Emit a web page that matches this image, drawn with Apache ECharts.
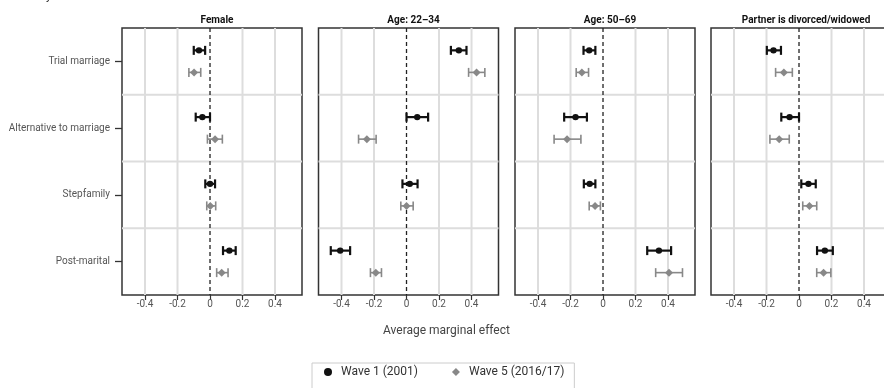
<!DOCTYPE html>
<html><head><meta charset="utf-8">
<script src="https://cdn.jsdelivr.net/npm/echarts@6/dist/echarts.min.js"></script>
<style>html,body{margin:0;padding:0;background:#fff}#c{width:884px;height:388px}</style>
</head><body><div id="c"></div>
<script>
// ---- data ----
const categories = ['Trial marriage', 'Alternative to marriage', 'Stepfamily', 'Post-marital'];
const panels = ['Female', 'Age: 22\u201334', 'Age: 50\u201369', 'Partner is divorced/widowed'];
const waves = ['Wave 1 (2001)', 'Wave 5 (2016/17)'];
const xTicks = [-0.4, -0.2, 0, 0.2, 0.4];
const catIdx = [0, 1, 2, 3];
const catBounds = [0.5, 1.5, 2.5];
// each entry: [estimate, lower, upper] per category
const femaleW1 = [[-0.068, -0.10, -0.03], [-0.047, -0.088, 0.0], [0.0, -0.029, 0.031], [0.119, 0.08, 0.158]];
const femaleW5 = [[-0.098, -0.13, -0.057], [0.031, -0.016, 0.076], [0.002, -0.02, 0.035], [0.072, 0.041, 0.111]];
const young1 = [[0.322, 0.273, 0.369], [0.066, 0.0, 0.133], [0.02, -0.025, 0.068], [-0.408, -0.466, -0.347]];
const young5 = [[0.431, 0.382, 0.482], [-0.244, -0.295, -0.187], [0.0, -0.035, 0.041], [-0.189, -0.222, -0.154]];
const older1 = [[-0.085, -0.12, -0.047], [-0.169, -0.239, -0.099], [-0.082, -0.118, -0.047], [0.344, 0.272, 0.419]];
const older5 = [[-0.13, -0.165, -0.089], [-0.221, -0.301, -0.136], [-0.049, -0.085, -0.016], [0.406, 0.324, 0.489]];
const partner1 = [[-0.157, -0.198, -0.111], [-0.058, -0.109, 0.0], [0.058, 0.014, 0.103], [0.159, 0.111, 0.208]];
const partner5 = [[-0.093, -0.144, -0.041], [-0.122, -0.179, -0.06], [0.064, 0.023, 0.109], [0.151, 0.109, 0.196]];
const panelData = [[femaleW1, femaleW5], [young1, young5], [older1, older5], [partner1, partner5]];

// ---- layout/styles ----
const FONT = 'Roboto, "Liberation Sans", sans-serif';
const lefts = [122, 318.5, 515, 711];
const PW = 180, TOP = 28, PH = 267;
const XMIN = -0.5415, XMAX = 0.566;
const YMIN = -0.5, YMAX = 3.5;
const colors = ['#111111', '#888888'];

function renderPoint(wi) {
  return function (params, api) {
    const ci = api.value(3);
    const band = api.size([0, 1])[1];
    const off = (wi === 0 ? -1 : 1) * band * 0.165;
    const p = api.coord([api.value(0), ci]);
    const l = api.coord([api.value(1), ci]);
    const h = api.coord([api.value(2), ci]);
    const y = p[1] + off;
    const col = colors[wi];
    const lw = wi === 0 ? 2.2 : 1.6;
    const ch = 4.5;
    const st = { stroke: col, lineWidth: lw, fill: null };
    const kids = [
      { type: 'line', shape: { x1: l[0], y1: y, x2: h[0], y2: y }, style: st },
      { type: 'line', shape: { x1: l[0], y1: y - ch, x2: l[0], y2: y + ch }, style: st },
      { type: 'line', shape: { x1: h[0], y1: y - ch, x2: h[0], y2: y + ch }, style: st }
    ];
    if (wi === 0) {
      kids.push({ type: 'circle', shape: { cx: p[0], cy: y, r: 3.2 }, style: { fill: col } });
    } else {
      const d = 4;
      kids.push({ type: 'polygon', shape: { points: [[p[0], y - d], [p[0] + d, y], [p[0], y + d], [p[0] - d, y]] }, style: { fill: col } });
    }
    return { type: 'group', children: kids };
  };
}
// gridlines: data rows [kind, value]; kind 0 = vertical at x, 1 = horizontal at y
function renderGrid(params, api) {
  const kind = api.value(0), v = api.value(1);
  if (kind === 0) {
    const a = api.coord([v, YMIN]), b = api.coord([v, YMAX]);
    const zero = Math.abs(v) < 1e-9;
    return { type: 'line', shape: { x1: a[0], y1: a[1], x2: b[0], y2: b[1] },
      style: zero ? { stroke: '#222', lineWidth: 1.3, lineDash: [4, 3] } : { stroke: '#dddddd', lineWidth: 2 },
      z2: zero ? 2 : 1 };
  }
  const a = api.coord([XMIN, v]), b = api.coord([XMAX, v]);
  return { type: 'line', shape: { x1: a[0], y1: a[1], x2: b[0], y2: b[1] }, style: { stroke: '#dddddd', lineWidth: 2 } };
}
const gridRows = xTicks.map(v => [0, v]).concat(catBounds.map(v => [1, v]));

const grids = [], xAxes = [], yAxes = [], series = [], titles = [];
panels.forEach((name, i) => {
  grids.push({ left: lefts[i], top: TOP, width: PW, height: PH, show: true, borderColor: '#333', borderWidth: 1.5,
    backgroundColor: 'transparent', containLabel: false, outerBoundsMode: 'none' });
  titles.push({ text: name, left: lefts[i] + PW / 2, top: 10, textAlign: 'center',
    textStyle: { fontFamily: FONT, fontSize: 10, fontWeight: 'bold', color: '#111' } });
  xAxes.push({ type: 'value', gridIndex: i, min: XMIN, max: XMAX, position: 'bottom',
    axisLine: { show: false, onZero: false }, splitLine: { show: false },
    axisTick: { show: true, customValues: xTicks, length: 5, lineStyle: { color: '#333', width: 1.2 } },
    axisLabel: { show: true, customValues: xTicks, margin: 4, color: '#555', fontFamily: FONT, fontSize: 10,
      formatter: v => (Math.abs(v) < 1e-9 ? '0' : String(Math.round(v * 10) / 10)) } });
  yAxes.push({ type: 'value', gridIndex: i, min: YMIN, max: YMAX, inverse: true, position: 'left',
    axisLine: { show: false, onZero: false }, splitLine: { show: false },
    axisTick: { show: i === 0, customValues: catIdx, length: 7, lineStyle: { color: '#333', width: 1.3 } },
    axisLabel: { show: i === 0, customValues: catIdx, margin: 12, color: '#555', fontFamily: FONT, fontSize: 10,
      formatter: v => categories[Math.round(v)] || '' } });
  series.push({ type: 'custom', name: 'grid' + i, xAxisIndex: i, yAxisIndex: i, renderItem: renderGrid,
    encode: { x: 1, y: 1 }, data: gridRows, z: 1, silent: true, clip: false });
  panelData[i].forEach((arr, wi) => {
    series.push({
      type: 'custom', name: waves[wi], xAxisIndex: i, yAxisIndex: i,
      renderItem: renderPoint(wi), encode: { x: 0, y: 3 },
      itemStyle: { color: colors[wi] },
      data: arr.map((r, ci) => [r[0], r[1], r[2], catIdx[ci]]), z: 3, silent: true
    });
  });
});

const chart = echarts.init(document.getElementById('c'), null, { renderer: 'canvas' });
chart.setOption({
  animation: false,
  backgroundColor: '#fff',
  textStyle: { fontFamily: FONT },
  title: titles,
  grid: grids, xAxis: xAxes, yAxis: yAxes, series: series,
  legend: {
    data: [{ name: waves[0], icon: 'circle' }, { name: waves[1], icon: 'diamond' }],
    left: 312, top: 363, padding: [3, 10, 14, 12], itemGap: 34, itemWidth: 8, itemHeight: 8,
    borderColor: '#cccccc', borderWidth: 1, backgroundColor: '#fff',
    textStyle: { fontFamily: FONT, fontSize: 12, color: '#333', padding: [0, 0, 0, 4] }
  },
  graphic: [
    { type: 'text', left: 383, top: 325, style: { text: 'Average marginal effect', fontFamily: FONT, fontSize: 12, fill: '#444' } },
    { type: 'text', left: 46, top: -10, style: { text: 'y', fontFamily: FONT, fontSize: 12, fill: '#333' } }
  ]
});
</script></body></html>
